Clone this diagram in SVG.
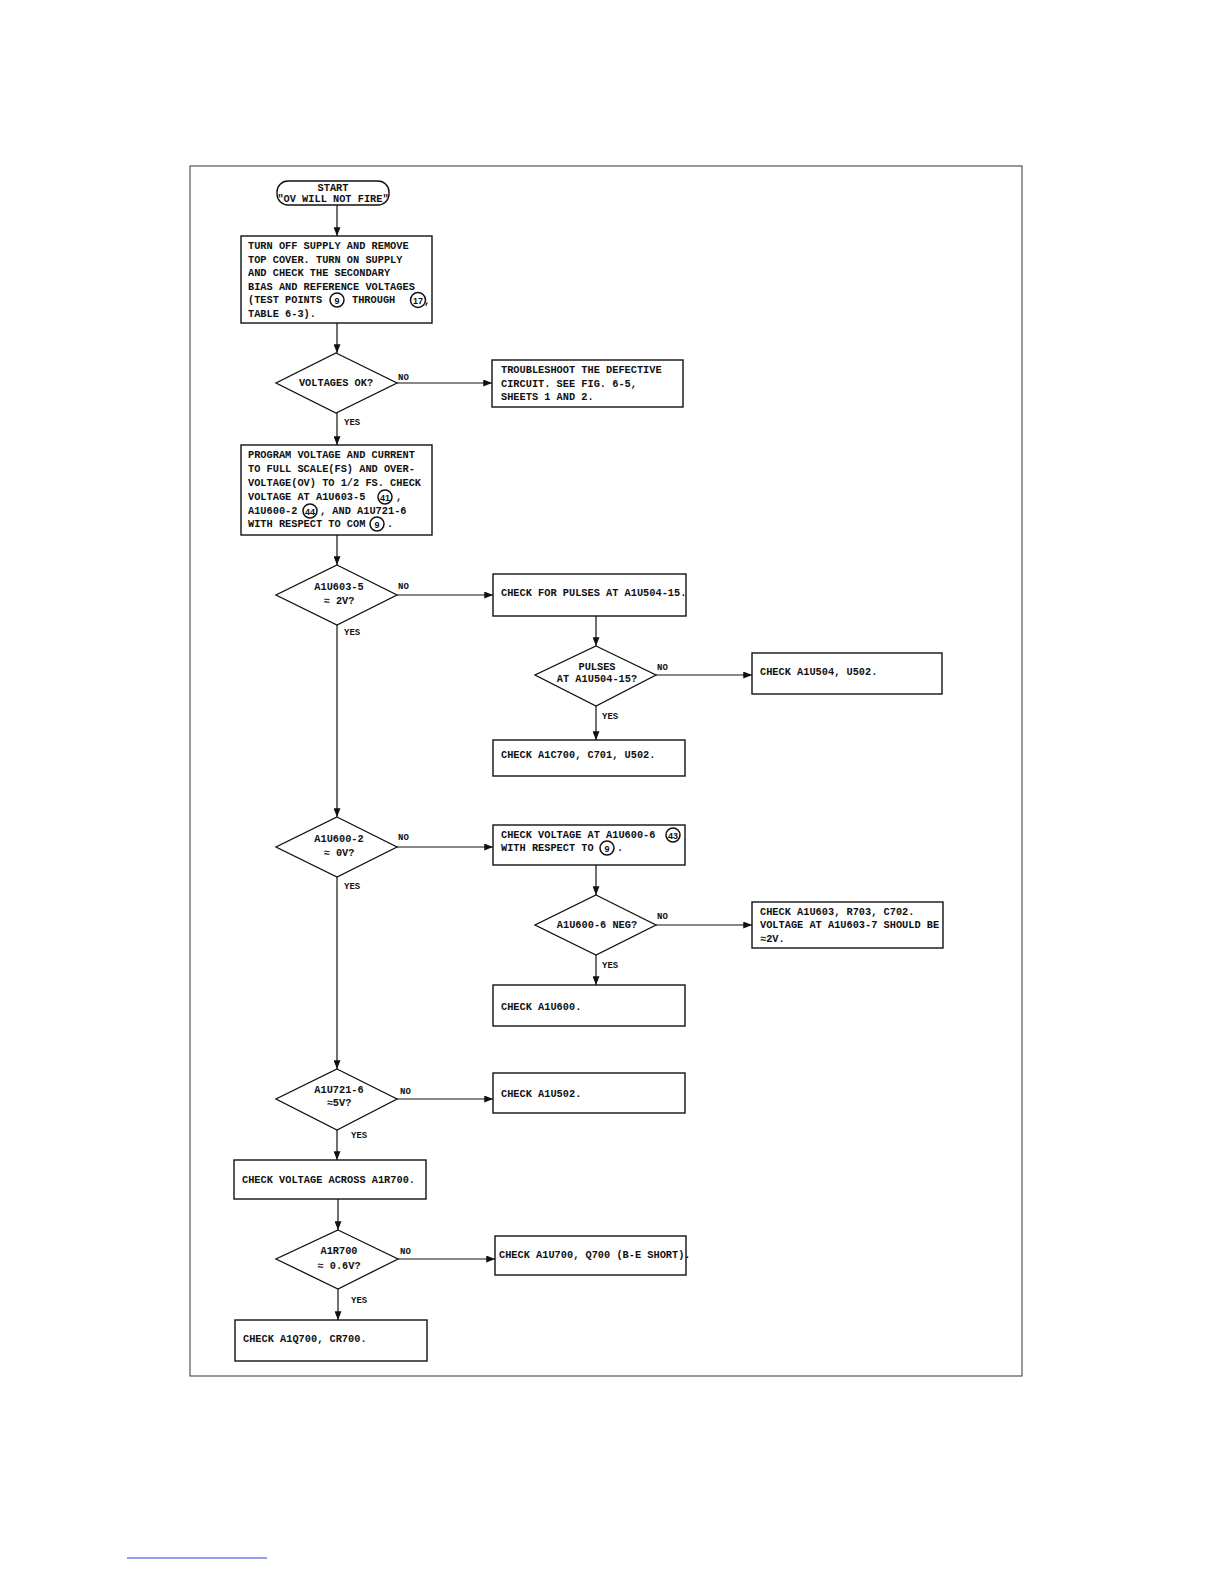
<svg xmlns="http://www.w3.org/2000/svg" width="1224" height="1584" viewBox="0 0 1224 1584">
<style>
.box{fill:#fff;stroke:#111;stroke-width:1.4}
.dia{fill:#fff;stroke:#111;stroke-width:1.3}
.t{font-family:"Liberation Mono","DejaVu Sans Mono",monospace;font-weight:bold;font-size:10.3px;fill:#111}
.c{text-anchor:middle}
.lb{font-family:"Liberation Mono","DejaVu Sans Mono",monospace;font-weight:bold;font-size:9px;fill:#111}
.ln{fill:none;stroke:#111;stroke-width:1.2}
.cir{fill:#fff;stroke:#111;stroke-width:1.5}
.ct{font-family:"Liberation Sans","DejaVu Sans",sans-serif;font-weight:bold;font-size:9px;fill:#111;text-anchor:middle}
</style>
<defs>
<marker id="ah" viewBox="0 0 10 8" refX="10" refY="4" markerWidth="9" markerHeight="7" markerUnits="userSpaceOnUse" orient="auto">
<path d="M0,0 L10,4 L0,8 z" fill="#111"/>
</marker>
</defs>
<rect width="1224" height="1584" fill="#fff"/>
<rect x="190" y="166" width="832" height="1210" fill="none" stroke="#333" stroke-width="1"/>
<line x1="127" y1="1558" x2="267" y2="1558" stroke="#2a3cd0" stroke-width="1"/>

<g id="connectors">
<line class="ln" x1="337" y1="205" x2="337" y2="236" marker-end="url(#ah)"/>
<line class="ln" x1="337" y1="323" x2="337" y2="353" marker-end="url(#ah)"/>
<line class="ln" x1="397" y1="383" x2="492" y2="383" marker-end="url(#ah)"/>
<line class="ln" x1="337" y1="413" x2="337" y2="445" marker-end="url(#ah)"/>
<line class="ln" x1="337" y1="535" x2="337" y2="565" marker-end="url(#ah)"/>
<line class="ln" x1="397" y1="595" x2="493" y2="595" marker-end="url(#ah)"/>
<line class="ln" x1="596" y1="616" x2="596" y2="646" marker-end="url(#ah)"/>
<line class="ln" x1="656" y1="675" x2="752" y2="675" marker-end="url(#ah)"/>
<line class="ln" x1="596" y1="706" x2="596" y2="740" marker-end="url(#ah)"/>
<line class="ln" x1="337" y1="625" x2="337" y2="817" marker-end="url(#ah)"/>
<line class="ln" x1="397" y1="847" x2="493" y2="847" marker-end="url(#ah)"/>
<line class="ln" x1="596" y1="865" x2="596" y2="895" marker-end="url(#ah)"/>
<line class="ln" x1="656" y1="925" x2="752" y2="925" marker-end="url(#ah)"/>
<line class="ln" x1="596" y1="955" x2="596" y2="985" marker-end="url(#ah)"/>
<line class="ln" x1="337" y1="877" x2="337" y2="1069" marker-end="url(#ah)"/>
<line class="ln" x1="397" y1="1099" x2="493" y2="1099" marker-end="url(#ah)"/>
<line class="ln" x1="337" y1="1130" x2="337" y2="1160" marker-end="url(#ah)"/>
<line class="ln" x1="338" y1="1199" x2="338" y2="1230" marker-end="url(#ah)"/>
<line class="ln" x1="398" y1="1259" x2="495" y2="1259" marker-end="url(#ah)"/>
<line class="ln" x1="338" y1="1289" x2="338" y2="1320" marker-end="url(#ah)"/>
<text class="lb" x="398" y="380">NO</text>
<text class="lb" x="344" y="425">YES</text>
<text class="lb" x="398" y="589">NO</text>
<text class="lb" x="344" y="635">YES</text>
<text class="lb" x="657" y="670">NO</text>
<text class="lb" x="602" y="719">YES</text>
<text class="lb" x="398" y="840">NO</text>
<text class="lb" x="344" y="889">YES</text>
<text class="lb" x="657" y="919">NO</text>
<text class="lb" x="602" y="968">YES</text>
<text class="lb" x="400" y="1094">NO</text>
<text class="lb" x="351" y="1138">YES</text>
<text class="lb" x="400" y="1254">NO</text>
<text class="lb" x="351" y="1303">YES</text>
</g>

<g id="start">
<rect class="box" x="277" y="181" width="112" height="24" rx="11"/>
<text class="t c" x="333" y="191">START</text>
<text class="t c" x="333" y="202">"OV WILL NOT FIRE"</text>
</g>

<g id="box-turn-off">
<rect class="box" x="241" y="236" width="191" height="87"/>
<text class="t" x="248" y="249">TURN OFF SUPPLY AND REMOVE</text>
<text class="t" x="248" y="263">TOP COVER. TURN ON SUPPLY</text>
<text class="t" x="248" y="276">AND CHECK THE SECONDARY</text>
<text class="t" x="248" y="290">BIAS AND REFERENCE VOLTAGES</text>
<text class="t" x="248" y="303">(TEST POINTS</text>
<circle class="cir" cx="337" cy="300" r="7"/><text class="ct" x="337" y="303.5">9</text>
<text class="t" x="352" y="303">THROUGH</text>
<circle class="cir" cx="418" cy="300" r="7.5"/><text class="ct" x="418" y="303.5">17</text>
<text class="t" x="424" y="304">,</text>
<text class="t" x="248" y="317">TABLE 6-3).</text>
</g>

<g id="dec-voltages">
<polygon class="dia" points="336,353 397,383 336,413 276,383"/>
<text class="t c" x="336" y="386">VOLTAGES OK?</text>
</g>

<g id="box-troubleshoot">
<rect class="box" x="492" y="360" width="191" height="47"/>
<text class="t" x="501" y="373">TROUBLESHOOT THE DEFECTIVE</text>
<text class="t" x="501" y="387">CIRCUIT.  SEE FIG. 6-5,</text>
<text class="t" x="501" y="400">SHEETS 1 AND 2.</text>
</g>

<g id="box-program">
<rect class="box" x="241" y="445" width="191" height="90"/>
<text class="t" x="248" y="458">PROGRAM VOLTAGE AND CURRENT</text>
<text class="t" x="248" y="472">TO FULL SCALE(FS) AND OVER-</text>
<text class="t" x="248" y="486">VOLTAGE(OV) TO 1/2 FS. CHECK</text>
<text class="t" x="248" y="500">VOLTAGE AT A1U603-5</text>
<circle class="cir" cx="385" cy="497" r="7"/><text class="ct" x="385" y="500.5">41</text>
<text class="t" x="396" y="500">,</text>
<text class="t" x="248" y="514">A1U600-2</text>
<circle class="cir" cx="310" cy="511" r="7"/><text class="ct" x="310" y="514.5">44</text>
<text class="t" x="320" y="514">, AND A1U721-6</text>
<text class="t" x="248" y="527">WITH RESPECT TO COM</text>
<circle class="cir" cx="377" cy="524" r="7"/><text class="ct" x="377" y="527.5">9</text>
<text class="t" x="387" y="527">.</text>
</g>

<g id="dec-u603">
<polygon class="dia" points="337,565 397,595 337,625 276,595"/>
<text class="t c" x="339" y="590">A1U603-5</text>
<text class="t c" x="339" y="604">≈ 2V?</text>
</g>

<g id="box-pulses">
<rect class="box" x="493" y="574" width="193" height="42"/>
<text class="t" x="501" y="596">CHECK FOR PULSES AT A1U504-15.</text>
</g>

<g id="dec-pulses">
<polygon class="dia" points="596,646 656,675 596,706 535,675"/>
<text class="t c" x="597" y="670">PULSES</text>
<text class="t c" x="597" y="682">AT A1U504-15?</text>
</g>

<g id="box-u504">
<rect class="box" x="752" y="653" width="190" height="41"/>
<text class="t" x="760" y="675">CHECK A1U504, U502.</text>
</g>

<g id="box-c700">
<rect class="box" x="493" y="740" width="192" height="36"/>
<text class="t" x="501" y="758">CHECK A1C700, C701, U502.</text>
</g>

<g id="dec-u600-2">
<polygon class="dia" points="337,817 397,847 337,877 276,847"/>
<text class="t c" x="339" y="842">A1U600-2</text>
<text class="t c" x="339" y="856">≈ 0V?</text>
</g>

<g id="box-check-voltage">
<rect class="box" x="493" y="825" width="192" height="40"/>
<text class="t" x="501" y="838">CHECK VOLTAGE AT A1U600-6</text>
<circle class="cir" cx="673" cy="835" r="7"/><text class="ct" x="673" y="838.5">43</text>
<text class="t" x="501" y="851">WITH RESPECT TO</text>
<circle class="cir" cx="607" cy="848" r="7"/><text class="ct" x="607" y="851.5">9</text>
<text class="t" x="617" y="851">.</text>
</g>

<g id="dec-neg">
<polygon class="dia" points="596,895 656,925 596,955 535,925"/>
<text class="t c" x="597" y="928">A1U600-6 NEG?</text>
</g>

<g id="box-u603">
<rect class="box" x="752" y="902" width="191" height="46"/>
<text class="t" x="760" y="915">CHECK A1U603, R703, C702.</text>
<text class="t" x="760" y="928">VOLTAGE AT A1U603-7 SHOULD BE</text>
<text class="t" x="760" y="942">≈2V.</text>
</g>

<g id="box-u600">
<rect class="box" x="493" y="985" width="192" height="41"/>
<text class="t" x="501" y="1010">CHECK A1U600.</text>
</g>

<g id="dec-u721">
<polygon class="dia" points="337,1069 397,1099 337,1130 276,1099"/>
<text class="t c" x="339" y="1093">A1U721-6</text>
<text class="t c" x="339" y="1106">≈5V?</text>
</g>

<g id="box-u502">
<rect class="box" x="493" y="1073" width="192" height="40"/>
<text class="t" x="501" y="1097">CHECK A1U502.</text>
</g>

<g id="box-across">
<rect class="box" x="234" y="1160" width="192" height="39"/>
<text class="t" x="242" y="1183">CHECK VOLTAGE ACROSS A1R700.</text>
</g>

<g id="dec-r700">
<polygon class="dia" points="338,1230 398,1259 338,1289 276,1259"/>
<text class="t c" x="339" y="1254">A1R700</text>
<text class="t c" x="339" y="1269">≈ 0.6V?</text>
</g>

<g id="box-u700">
<rect class="box" x="495" y="1236" width="191" height="39"/>
<text class="t" x="499" y="1258">CHECK A1U700, Q700 (B-E SHORT).</text>
</g>

<g id="box-q700">
<rect class="box" x="235" y="1320" width="192" height="41"/>
<text class="t" x="243" y="1342">CHECK A1Q700, CR700.</text>
</g>
</svg>
